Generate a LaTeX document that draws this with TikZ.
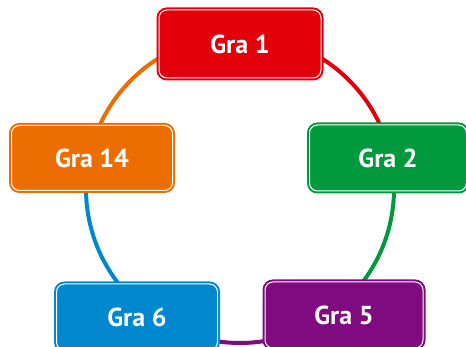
\documentclass[tikz,border=0pt]{standalone}
\usepackage{fontspec}
\setmainfont{PT Sans}
\definecolor{cRed}{RGB}{228,0,11}
\definecolor{cGreen}{RGB}{0,153,62}
\definecolor{cOrange}{RGB}{236,110,0}
\definecolor{cBlue}{RGB}{0,136,206}
\definecolor{cPurple}{RGB}{128,10,128}
\tikzset{
  tag/.style={rectangle, rounded corners=8pt, fill=#1, draw=white, line width=1pt,
    preaction={draw=#1, line width=5pt},
    text=white, font=\fontsize{26}{30}\selectfont\bfseries, inner sep=0pt},
  ring/.style={draw=#1, line width=4pt},
}
\begin{document}
\begin{tikzpicture}[x=1pt, y=1pt]
  \useasboundingbox (0,0) rectangle (466,347);
  \coordinate (ctr) at (240,158);
  % coloured arcs of the ring, one per step, drawn beneath the boxes
  \draw[ring=cRed]    ([shift={(90:154)}]ctr)   arc[start angle=90,   end angle=12,   radius=154];
  \draw[ring=cGreen]  ([shift={(12:154)}]ctr)   arc[start angle=12,   end angle=-50,  radius=154];
  \draw[ring=cPurple] ([shift={(-50:154)}]ctr)  arc[start angle=-50,  end angle=-129, radius=154];
  \draw[ring=cBlue]   ([shift={(-129:154)}]ctr) arc[start angle=-129, end angle=-192, radius=154];
  \draw[ring=cOrange] ([shift={(168:154)}]ctr)  arc[start angle=168,  end angle=90,   radius=154];
  % the five boxes
  \node[tag=cRed,    minimum width=162pt, minimum height=68pt] (g1)  at (240,303) {Gra 1};
  \node[tag=cGreen,  minimum width=157pt, minimum height=66pt] (g2)  at (388,189) {Gra 2};
  \node[tag=cPurple, minimum width=158pt, minimum height=66pt] (g5)  at (344,32)  {Gra 5};
  \node[tag=cBlue,   minimum width=161pt, minimum height=66pt] (g6)  at (137,30)  {Gra 6};
  \node[tag=cOrange, minimum width=161pt, minimum height=65pt] (g14) at (92,189)  {Gra 14};
\end{tikzpicture}
\end{document}
